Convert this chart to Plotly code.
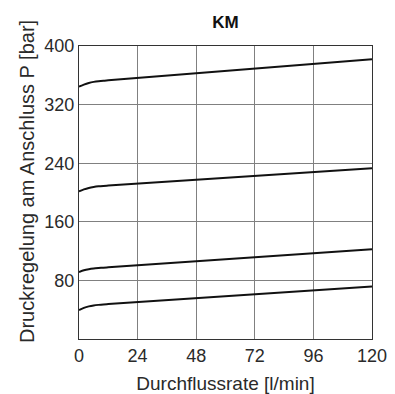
import plotly.graph_objects as go

# Data
flow = [0, 2, 4, 6, 8, 10, 12, 120]
p_350 = [344.5, 347.3, 349.5, 351.0, 352.0, 352.7, 353.2, 382.0]
p_200 = [201.5, 204.2, 206.2, 207.5, 208.4, 209.0, 209.5, 233.0]
p_90 = [91.5, 93.8, 95.3, 96.3, 96.9, 97.4, 97.9, 122.5]
p_40 = [39.5, 42.5, 44.5, 45.8, 46.6, 47.2, 47.7, 71.7]

x_ticks = [0, 24, 48, 72, 96, 120]
y_ticks = [80, 160, 240, 320, 400]

fig = go.Figure()
for ys in (p_350, p_200, p_90, p_40):
    fig.add_trace(go.Scatter(x=flow, y=ys, mode="lines",
                             line=dict(color="#111111", width=2, shape="spline", smoothing=0.6),
                             showlegend=False, hoverinfo="skip"))

tick_font = dict(family="Liberation Sans, Arial, sans-serif", size=18, color="#2a2a2a")
title_font = dict(family="Liberation Sans, Arial, sans-serif", size=19, color="#2a2a2a")

# the page body has an 8px default margin, so the figure is drawn 8px smaller
W, H = 387, 386
L, R, T, B = 71, 23, 38, 55
pw, ph = W - L - R, H - T - B
fig.update_layout(
    width=W, height=H,
    margin=dict(l=L, r=R, t=T, b=B),
    paper_bgcolor="white", plot_bgcolor="white",
    title=dict(text="<b>KM</b>", x=217.5 / W, xanchor="center", y=1 - 14 / H, yanchor="middle",
               font=dict(family="Liberation Sans, Arial, sans-serif", size=17, color="#111111")),
    xaxis=dict(range=[0, 120], tickvals=x_ticks, ticktext=[str(v) for v in x_ticks],
               showgrid=True, gridcolor="#808080", gridwidth=1, automargin=False,
               showline=True, linecolor="#333333", linewidth=1, mirror=True,
               ticks="", tickfont=tick_font, zeroline=False,
               title=dict(text="Durchflussrate [l/min]", font=title_font, standoff=14)),
    yaxis=dict(range=[0, 400], tickvals=y_ticks, ticktext=[str(v) for v in y_ticks],
               showgrid=True, gridcolor="#808080", gridwidth=1, automargin=False,
               showline=True, linecolor="#333333", linewidth=1, mirror=True,
               ticks="", tickfont=tick_font, zeroline=False),
    annotations=[dict(text="Druckregelung am Anschluss P [bar]", textangle=-90,
                      xref="paper", yref="paper",
                      x=(19 - L) / pw, y=(H - B - 174) / ph,
                      xanchor="center", yanchor="middle", showarrow=False,
                      font=dict(family="Liberation Sans, Arial, sans-serif", size=20, color="#2a2a2a"))],
)

fig.write_html("out.html")
